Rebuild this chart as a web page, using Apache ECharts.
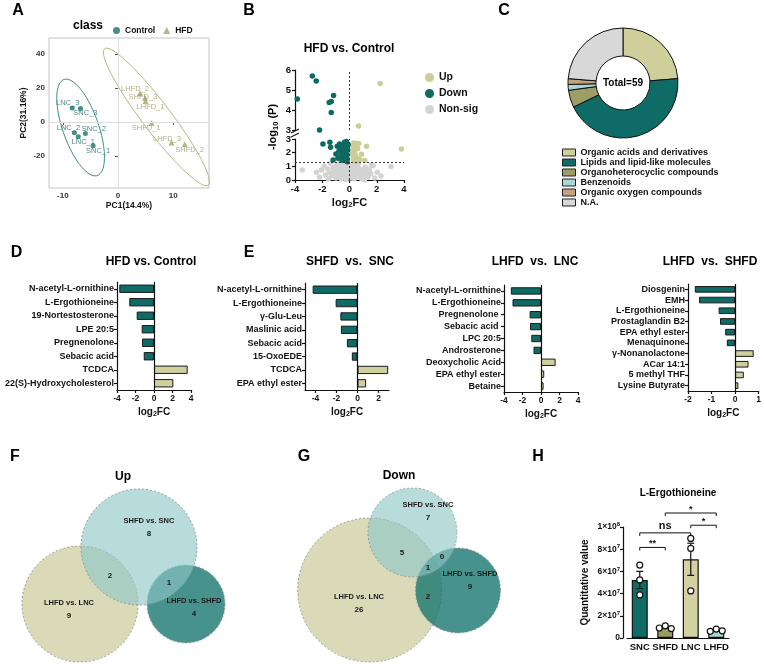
<!DOCTYPE html>
<html>
<head>
<meta charset="utf-8">
<script src="https://cdn.jsdelivr.net/npm/echarts@6/dist/echarts.min.js"></script>
<style>html,body{margin:0;padding:0;background:#fff}#chart{width:764px;height:664px}</style>
</head>
<body>
<div id="chart"></div>
<script>
const FONT = '"Liberation Sans", Arial, Helvetica, sans-serif';
const TEAL = '#0e6b65';
const OLIVE_LIGHT = '#d0d09e';
const OLIVE = '#9c9c68';

// A: PCA scores
const pcaControlNames = ['LNC_3', 'SNC_3', 'LNC_2', 'SNC_2', 'LNC_1', 'SNC_1'];
const pcaControlX = [-8.3, -6.8, -7.9, -5.9, -7.2, -4.5];
const pcaControlY = [8.2, 8.0, -6.3, -6.7, -8.7, -13.9];
const pcaHfdNames = ['LHFD_2', 'SHFD_3', 'LHFD_1', 'SHFD_1', 'LHFD_3', 'SHFD_2'];
const pcaHfdX = [4.0, 4.9, 5.0, 6.1, 9.7, 12.1];
const pcaHfdY = [17.0, 14.3, 12.4, -0.6, -12.1, -13.1];

// B: volcano
const upX = [2.25, 0.66, 0.32, 0.51, 0.68, 1.25, 0.88, 3.81, 1.12, 0.32, 0.39, 0.44, 0.32, 0.56, 0.44, 0.25, 0.35, 0.28, 0.6, 0.5, 0.2, 0.38, 0.75, 0.3];
const upY = [5.33, 3.2, 2.71, 2.67, 2.67, 2.47, 1.88, 2.27, 1.43, 2.22, 1.97, 1.73, 1.48, 1.6, 1.33, 2.5, 2.0, 1.65, 2.3, 1.45, 1.9, 2.4, 1.5, 1.4];
const downX = [-2.73, -2.44, -3.83, -1.17, -1.49, -1.34, -1.34, -2.2, -1.95, -1.44, -1.39, -1.2, -0.9, -0.73, -0.37, -0.22, -0.66, -0.54, -0.42, -0.66, -0.29, -0.17, -0.78, -0.46, -0.29, -0.17, -0.1, -0.55, -0.85, -0.3, -0.12, -0.6, -1.0, -0.45, -0.2];
const downY = [5.7, 5.45, 4.55, 4.73, 4.38, 4.42, 3.87, 3.0, 2.64, 2.76, 2.39, 1.46, 2.47, 2.64, 2.76, 2.81, 2.22, 1.97, 1.73, 1.73, 1.48, 1.33, 2.1, 2.47, 2.1, 1.85, 2.6, 1.45, 1.6, 2.35, 2.2, 2.55, 1.9, 2.05, 1.6];
const nsX = [-3.47, -2.42, -2.05, -1.76, -1.39, 2.03, 3.05, 1.73, 1.1, -1.6, -1.45, -1.3, -1.2, -1.1, -1.0, -0.95, -0.9, -0.85, -0.8, -0.7, -0.65, -0.6, -0.55, -0.5, -0.45, -0.4, -0.35, -0.3, -0.25, -0.2, -0.15, -0.1, -0.05, 0.0, 0.05, 0.1, 0.15, 0.2, 0.25, 0.3, 0.35, 0.4, 0.45, 0.5, 0.55, 0.6, 0.7, 0.75, 0.85, 0.9, 1.0, 1.05, 1.15, 1.25, 1.35, 1.45, 1.55, -2.2, -1.85, 2.3, 1.85, -0.75, 0.65, -1.55, 1.6];
const nsY = [0.74, 0.57, 0.74, 0.37, 1.23, 0.57, 0.99, 1.06, 0.02, 0.8, 0.55, 0.3, 0.9, 0.6, 0.15, 1.05, 0.4, 0.75, 0.2, 0.95, 0.55, 0.1, 0.35, 0.8, 1.15, 0.5, 0.25, 0.7, 0.05, 0.95, 0.4, 0.6, 1.1, 0.3, 0.8, 0.15, 0.55, 1.0, 0.35, 0.7, 0.1, 0.9, 0.45, 0.2, 0.65, 1.1, 0.3, 0.8, 0.5, 0.1, 0.7, 0.35, 0.95, 0.55, 0.2, 0.75, 0.45, 0.2, 1.0, 0.3, 0.15, 1.25, 1.25, 0.1, 1.1];

// C: classes
const pieNames = ['Organic acids and derivatives', 'Lipids and lipid-like molecules', 'Organoheterocyclic compounds', 'Benzenoids', 'Organic oxygen compounds', 'N.A.'];
const pieCounts = [14, 26, 3, 1, 1, 14];
const pieColors = ['#cfcf9c', TEAL, '#9d9d68', '#a8d6d4', '#c1a47c', '#d8d8d8'];

// D, E: log2FC
const dNames = ['N-acetyl-L-ornithine', 'L-Ergothioneine', '19-Nortestosterone', 'LPE 20:5', 'Pregnenolone', 'Sebacic acid', 'TCDCA', '22(S)-Hydroxycholesterol'];
const dFC = [-3.75, -2.67, -1.87, -1.33, -1.3, -1.11, 3.64, 2.09];
const e1Names = ['N-acetyl-L-ornithine', 'L-Ergothioneine', 'γ-Glu-Leu', 'Maslinic acid', 'Sebacic acid', '15-OxoEDE', 'TCDCA', 'EPA ethyl ester'];
const e1FC = [-4.27, -2.08, -1.63, -1.58, -1.01, -0.54, 2.92, 0.82];
const e2Names = ['N-acetyl-L-ornithine', 'L-Ergothioneine', 'Pregnenolone ', 'Sebacic acid ', 'LPC 20:5', 'Androsterone', 'Deoxycholic Acid', 'EPA ethyl ester', 'Betaine'];
const e2FC = [-3.26, -3.08, -1.23, -1.19, -1.05, -0.81, 1.58, 0.35, 0.28];
const e3Names = ['Diosgenin', 'EMH', 'L-Ergothioneine', 'Prostaglandin B2', 'EPA ethyl ester', 'Menaquinone', 'γ-Nonanolactone', 'ACar 14:1', '5 methyl THF', 'Lysine Butyrate'];
const e3FC = [-1.71, -1.53, -0.70, -0.64, -0.42, -0.35, 0.79, 0.57, 0.37, 0.14];

// F, G: venn counts
const vennSets = ['SHFD vs. SNC', 'LHFD vs. LNC', 'LHFD vs. SHFD'];
const vennUpOnly = [8, 9, 4];
const vennUpShared = [2, 1];          // SNC&LNC, SNC&SHFD
const vennDownOnly = [7, 26, 9];
const vennDownShared = [5, 0, 2, 1];  // SNC&LNC, SNC&SHFD, LNC&SHFD, all three

// H: L-Ergothioneine (x10^7)
const hGroups = ['SNC', 'SHFD', 'LNC', 'LHFD'];
const hReps = [[6.57, 5.23, 3.88], [0.90, 1.10, 0.85], [8.97, 8.07, 4.24], [0.60, 0.80, 0.65]];
const hBrackets = [[0, 1, 8.16], [0, 2, 9.47], [2, 3, 10.16], [1, 3, 11.26]];
const hBracketLabels = ['**', 'ns', '*', '*'];

// venn layout (panel units)
const vennUpCircles = [[80, 144, 58], [186, 144, 39], [139, 87, 58]];
const vennFills = ['rgba(196,196,140,0.62)', 'rgba(20,115,110,0.78)', 'rgba(140,198,198,0.62)'];
const vennUpNamePos = [[149, 61], [69, 143], [194, 141]];
const vennUpSharedPos = [[110, 116], [169, 123]];
const vennDownCircles = [[119.7, 130, 72], [208, 130.5, 42.5], [162.5, 72.5, 44.5]];
const vennDownNamePos = [[178, 45], [109, 137], [220, 114]];
const vennDownSharedPos = [[152, 93], [192, 97], [178, 137], [178, 108]];

const pcaLabelOffC = [[-4.5, -5], [5, 5], [-6, -5], [8.5, -4], [5, 5], [5, 5]];
const pcaLabelOffH = [[-5, -4], [-2, -1], [5, 6], [-5.5, 5], [-4.5, -4], [5, 6]];

function ellipsePoints(xs, ys, k) {
  const n = xs.length;
  const mx = xs.reduce((a, b) => a + b, 0) / n, my = ys.reduce((a, b) => a + b, 0) / n;
  let sxx = 0, syy = 0, sxy = 0;
  for (let i = 0; i < n; i++) {
    const dx = xs[i] - mx, dy = ys[i] - my;
    sxx += dx * dx; syy += dy * dy; sxy += dx * dy;
  }
  sxx /= n - 1; syy /= n - 1; sxy /= n - 1;
  const l11 = Math.sqrt(sxx), l21 = sxy / l11, l22 = Math.sqrt(syy - l21 * l21);
  const pts = [];
  for (let i = 0; i <= 90; i++) {
    const t = i / 90 * 2 * Math.PI, c = Math.cos(t), s = Math.sin(t);
    pts.push([mx + k * l11 * c, my + k * (l21 * c + l22 * s)]);
  }
  return pts;
}

const bold = (size) => ({ fontFamily: FONT, fontWeight: 'bold', fontSize: size, color: '#111' });
const log2fcName = {
  name: '{a|log}{b|2}{a|FC}', nameLocation: 'middle', nameGap: 16,
  nameTextStyle: { rich: { a: bold(10), b: Object.assign(bold(7), { padding: [5, 0, 0, 0] }) } }
};
const blackLine = { show: true, lineStyle: { color: '#111', width: 1.2 } };
const blackTick = { show: true, length: 3, lineStyle: { color: '#111', width: 1.2 } };

const grid = [
  { left: 49, top: 38, width: 160, height: 150, show: true, borderColor: '#c4c4c4', borderWidth: 1 },
  { left: 295, top: 139, width: 109, height: 41 },
  { left: 295, top: 70, width: 109, height: 60 },
  { left: 117, top: 282, width: 74, height: 108 },
  { left: 305, top: 283, width: 84, height: 107 },
  { left: 504, top: 285, width: 74, height: 107 },
  { left: 688, top: 284, width: 72, height: 107 },
  { left: 0, top: 460, width: 250, height: 204 },
  { left: 250, top: 460, width: 250, height: 204 },
  { left: 627, top: 527, width: 102, height: 111 }
];
const xAxis = [], yAxis = [], series = [];

// A
xAxis.push({
  gridIndex: 0, type: 'value', min: -12.5, max: 16.5, axisLine: { show: false },
  axisTick: { customValues: [-10, 0, 10], length: 3, lineStyle: { color: '#555' } },
  axisLabel: { customValues: [-10, 0, 10], margin: 4, ...bold(8), color: '#333' },
  splitLine: { show: false }, name: 'PC1(14.4%)', nameLocation: 'middle', nameGap: 12,
  nameTextStyle: bold(8.5)
});
yAxis.push({
  gridIndex: 0, type: 'value', min: -38.8, max: 49.4, axisLine: { show: false },
  axisTick: { customValues: [-20, 0, 20, 40], length: 3, lineStyle: { color: '#555' } },
  axisLabel: { customValues: [-20, 0, 20, 40], margin: 4, ...bold(8), color: '#333' },
  splitLine: { show: false }, name: 'PC2(31.16%)', nameLocation: 'middle', nameGap: 21,
  nameTextStyle: bold(8.5)
});
series.push({
  type: 'line', name: 'ctrlEllipse', xAxisIndex: 0, yAxisIndex: 0, showSymbol: false, silent: true,
  data: ellipsePoints(pcaControlX, pcaControlY, 3.1), lineStyle: { color: '#3a8c89', width: 1 },
  markLine: {
    silent: true, symbol: 'none', label: { show: false },
    lineStyle: { color: '#dedede', type: 'solid', width: 1 },
    data: [{ xAxis: 0 }, { yAxis: 0 }]
  }
});
series.push({
  type: 'line', name: 'hfdEllipse', xAxisIndex: 0, yAxisIndex: 0, showSymbol: false, silent: true,
  data: ellipsePoints(pcaHfdX, pcaHfdY, 3.0), lineStyle: { color: '#b6b683', width: 1 }
});
series.push({
  type: 'scatter', name: 'Control', xAxisIndex: 0, yAxisIndex: 0, symbol: 'circle', symbolSize: 5,
  itemStyle: { color: '#17706a' },
  data: pcaControlX.map((x, i) => ({
    value: [x, pcaControlY[i]], name: pcaControlNames[i],
    label: { offset: pcaLabelOffC[i] }
  })),
  label: { show: true, position: 'inside', formatter: '{b}', fontFamily: FONT, fontSize: 7.5, color: '#1b6a66' }
});
series.push({
  type: 'scatter', name: 'HFD', xAxisIndex: 0, yAxisIndex: 0, symbol: 'triangle', symbolSize: 6,
  itemStyle: { color: '#a3a36c' },
  data: pcaHfdX.map((x, i) => ({
    value: [x, pcaHfdY[i]], name: pcaHfdNames[i],
    label: { offset: pcaLabelOffH[i] }
  })),
  label: { show: true, position: 'inside', formatter: '{b}', fontFamily: FONT, fontSize: 7.5, color: '#9c9c62' }
});

// B
xAxis.push({
  gridIndex: 1, type: 'value', min: -4, max: 4, interval: 2, axisLine: blackLine, axisTick: blackTick,
  axisLabel: { margin: 4, ...bold(9.5) }, splitLine: { show: false },
  name: '{a|log}{b|2}{a|FC}', nameLocation: 'middle', nameGap: 16,
  nameTextStyle: { rich: { a: bold(11), b: Object.assign(bold(7.5), { padding: [5, 0, 0, 0] }) } }
});
yAxis.push({
  gridIndex: 1, type: 'value', min: 0, max: 3, interval: 1, axisLine: Object.assign({ onZero: false }, blackLine),
  axisTick: blackTick, axisLabel: { margin: 4, ...bold(9.5) }, splitLine: { show: false }
});
xAxis.push({ gridIndex: 2, type: 'value', min: -4, max: 4, show: false, splitLine: { show: false } });
yAxis.push({
  gridIndex: 2, type: 'value', min: 3, max: 6, interval: 1, axisLine: Object.assign({ onZero: false }, blackLine),
  axisTick: blackTick, axisLabel: { margin: 4, ...bold(9.5) }, splitLine: { show: false }
});
function volcano(name, xs, ys, color) {
  const lower = [], upper = [];
  xs.forEach((x, i) => (ys[i] > 2.9 ? upper : lower).push([x, ys[i]]));
  series.push({ type: 'scatter', name, xAxisIndex: 1, yAxisIndex: 1, data: lower, symbolSize: 5.5, clip: false, itemStyle: { color, opacity: 1 } });
  series.push({ type: 'scatter', name, xAxisIndex: 2, yAxisIndex: 2, data: upper, symbolSize: 5.5, clip: false, itemStyle: { color, opacity: 1 } });
}
volcano('Non-sig', nsX, nsY, '#d3d3d3');
volcano('Up', upX, upY, '#cdcd97');
volcano('Down', downX, downY, '#0d6a63');
const dotted = { color: '#333', type: [2, 2], width: 1 };
series.push({
  type: 'line', xAxisIndex: 1, yAxisIndex: 1, data: [], silent: true,
  markLine: { silent: true, symbol: 'none', label: { show: false }, lineStyle: dotted, data: [{ yAxis: 1.3 }, { xAxis: 0 }] }
});
series.push({
  type: 'line', xAxisIndex: 2, yAxisIndex: 2, data: [], silent: true,
  markLine: { silent: true, symbol: 'none', label: { show: false }, lineStyle: dotted, data: [{ xAxis: 0 }] }
});

// C
series.push({
  type: 'pie', center: [623, 83], radius: [27, 55], startAngle: 90, clockwise: true, silent: true,
  label: { show: false }, labelLine: { show: false },
  itemStyle: { borderColor: '#111', borderWidth: 1 },
  data: pieNames.map((n, i) => ({ name: n, value: pieCounts[i], itemStyle: { color: pieColors[i] } }))
});

// D, E
function barPanel(gi, names, fc, xmin, xmax, ticks) {
  xAxis.push(Object.assign({
    gridIndex: gi, type: 'value', min: xmin, max: xmax,
    axisLine: blackLine, axisTick: Object.assign({ customValues: ticks }, blackTick),
    axisLabel: { customValues: ticks, margin: 4, ...bold(8.5) }, splitLine: { show: false }
  }, log2fcName));
  yAxis.push({
    gridIndex: gi, type: 'category', data: names, inverse: true,
    axisLine: Object.assign({ onZero: false }, blackLine),
    axisTick: Object.assign({ alignWithLabel: true, interval: 0 }, blackTick),
    axisLabel: { interval: 0, margin: 3, ...bold(9) }
  });
  series.push({
    type: 'bar', xAxisIndex: gi, yAxisIndex: gi, barWidth: '62%', silent: true,
    itemStyle: { borderColor: '#1a1a1a', borderWidth: 1 },
    data: fc.map(v => ({ value: v, itemStyle: { color: v < 0 ? TEAL : OLIVE_LIGHT } })),
    markLine: {
      silent: true, symbol: 'none', label: { show: false },
      lineStyle: { color: '#111', type: 'solid', width: 1.2 }, data: [{ xAxis: 0 }]
    }
  });
}
barPanel(3, dNames, dFC, -4, 4, [-4, -2, 0, 2, 4]);
barPanel(4, e1Names, e1FC, -5, 3, [-4, -2, 0, 2]);
barPanel(5, e2Names, e2FC, -4, 4, [-4, -2, 0, 2, 4]);
barPanel(6, e3Names, e3FC, -2, 1, [-2, -1, 0, 1]);

// F, G
function vennPanel(gi, circles, names, onlyCounts, namePos, shared, sharedPos) {
  xAxis.push({ gridIndex: gi, type: 'value', min: 0, max: 250, show: false, splitLine: { show: false } });
  yAxis.push({ gridIndex: gi, type: 'value', min: 0, max: 204, inverse: true, show: false, splitLine: { show: false } });
  series.push({
    type: 'custom', xAxisIndex: gi, yAxisIndex: gi, data: circles, silent: true,
    renderItem: (params, api) => {
      const c = api.coord([api.value(0), api.value(1)]);
      const r = api.size([api.value(2), 0])[0];
      return {
        type: 'circle', shape: { cx: c[0], cy: c[1], r },
        style: { fill: vennFills[params.dataIndex], stroke: '#8a8a8a', lineWidth: 0.8, lineDash: [2, 2] }
      };
    }
  });
  const texts = [], pts = [], sizes = [];
  names.forEach((n, i) => {
    texts.push(n); pts.push(namePos[i]); sizes.push(7.5);
    texts.push(String(onlyCounts[i])); pts.push([namePos[i][0], namePos[i][1] + 13]); sizes.push(8);
  });
  shared.forEach((v, i) => { texts.push(String(v)); pts.push(sharedPos[i]); sizes.push(8); });
  series.push({
    type: 'custom', xAxisIndex: gi, yAxisIndex: gi, data: pts, silent: true, z: 5,
    renderItem: (params, api) => {
      const c = api.coord([api.value(0), api.value(1)]);
      return {
        type: 'text', x: c[0], y: c[1],
        style: {
          text: texts[params.dataIndex], fill: '#1a1a1a',
          font: 'bold ' + sizes[params.dataIndex] + 'px ' + FONT,
          textAlign: 'center', textVerticalAlign: 'middle', align: 'center', verticalAlign: 'middle'
        }
      };
    }
  });
}
vennPanel(7, vennUpCircles, vennSets, vennUpOnly, vennUpNamePos, vennUpShared, vennUpSharedPos);
vennPanel(8, vennDownCircles, vennSets, vennDownOnly, vennDownNamePos, vennDownShared, vennDownSharedPos);

// H
const hMeans = hReps.map(r => r.reduce((a, b) => a + b, 0) / r.length);
const hSem = hReps.map((r, i) => {
  const m = hMeans[i];
  const v = r.reduce((a, b) => a + (b - m) * (b - m), 0) / (r.length - 1);
  return Math.sqrt(v / r.length);
});
const hColors = [TEAL, '#9b9b66', '#d2d2a2', '#a9d6d5'];
xAxis.push({
  gridIndex: 9, type: 'category', data: hGroups, axisLine: blackLine, axisTick: { show: false },
  axisLabel: { interval: 0, margin: 4, ...bold(9.5) }
});
yAxis.push({
  gridIndex: 9, type: 'value', min: 0, max: 10, interval: 2, offset: 4,
  axisLine: blackLine, axisTick: blackTick, splitLine: { show: false },
  axisLabel: {
    margin: 3,
    formatter: v => v === 0 ? '{a|0}' : (v === 10 ? '{a|1×10}{s|8}' : '{a|' + v + '×10}{s|7}'),
    rich: { a: bold(8.5), s: Object.assign(bold(6), { padding: [0, 0, 5, 0] }) }
  },
  name: 'Quantitative value', nameLocation: 'middle', nameGap: 33, nameTextStyle: bold(10)
});
series.push({
  type: 'bar', xAxisIndex: 9, yAxisIndex: 9, barWidth: 16, silent: true,
  itemStyle: { borderColor: '#111', borderWidth: 1.2 },
  data: hMeans.map((m, i) => ({ value: m, itemStyle: { color: hColors[i] } }))
});
series.push({
  type: 'custom', xAxisIndex: 9, yAxisIndex: 9, silent: true, z: 4,
  data: hMeans.map((m, i) => [i, m, hSem[i]]),
  renderItem: (params, api) => {
    const i = api.value(0), m = api.value(1), s = api.value(2);
    const t = api.coord([i, m + s]), b = api.coord([i, m - s]);
    const st = { stroke: '#111', lineWidth: 1.2 };
    return {
      type: 'group', children: [
        { type: 'line', shape: { x1: t[0], y1: t[1], x2: b[0], y2: b[1] }, style: st },
        { type: 'line', shape: { x1: t[0] - 3.5, y1: t[1], x2: t[0] + 3.5, y2: t[1] }, style: st },
        { type: 'line', shape: { x1: b[0] - 3.5, y1: b[1], x2: b[0] + 3.5, y2: b[1] }, style: st }
      ]
    };
  }
});
const hDots = [];
hReps.forEach((r, i) => {
  const spread = Math.max(...r) - Math.min(...r) < 1;
  r.forEach((v, j) => hDots.push([i, v, spread ? (j - 1) * 6 : 0]));
});
series.push({
  type: 'custom', xAxisIndex: 9, yAxisIndex: 9, silent: true, z: 5, data: hDots,
  renderItem: (params, api) => {
    const c = api.coord([api.value(0), api.value(1)]);
    return { type: 'circle', shape: { cx: c[0] + api.value(2), cy: c[1], r: 3 }, style: { fill: '#fff', stroke: '#111', lineWidth: 1.2 } };
  }
});
series.push({
  type: 'custom', xAxisIndex: 9, yAxisIndex: 9, silent: true, z: 5, data: hBrackets, clip: false,
  renderItem: (params, api) => {
    const a = api.coord([api.value(0), api.value(2)]), b = api.coord([api.value(1), api.value(2)]);
    const lab = hBracketLabels[params.dataIndex];
    return {
      type: 'group', children: [
        { type: 'polyline', shape: { points: [[a[0], a[1] + 3], [a[0], a[1]], [b[0], a[1]], [b[0], a[1] + 3]] }, style: { stroke: '#111', lineWidth: 1, fill: null } },
        {
          type: 'text', x: (a[0] + b[0]) / 2, y: a[1] - (lab === 'ns' ? 1 : -1),
          style: {
            text: lab, fill: '#111', font: 'bold ' + (lab === 'ns' ? 11 : 9) + 'px ' + FONT,
            textAlign: 'center', textVerticalAlign: 'bottom', align: 'center', verticalAlign: 'bottom'
          }
        }
      ]
    };
  }
});

function txt(text, x, y, size, extra) {
  return Object.assign({
    type: 'text', x, y, silent: true,
    style: { text, fill: '#000', font: 'bold ' + size + 'px ' + FONT, textAlign: 'center', textVerticalAlign: 'middle', align: 'center', verticalAlign: 'middle' }
  }, extra || {});
}
const graphic = [
  txt('A', 18, 11, 16), txt('B', 249, 11, 16), txt('C', 504, 11, 16), txt('D', 16.5, 253, 16),
  txt('E', 249, 253, 16), txt('F', 15, 457, 16), txt('G', 304, 457, 16), txt('H', 538, 457, 16),
  txt('class', 88, 26, 12),
  txt('HFD vs. Control', 349, 49, 12),
  txt('Total=59', 623, 83, 10),
  txt('HFD vs. Control', 151, 262, 12),
  txt('SHFD  vs.  SNC', 350, 262, 12),
  txt('LHFD  vs.  LNC', 535, 262, 12),
  txt('LHFD  vs.  SHFD', 710, 262, 12),
  txt('Up', 123, 477, 12),
  txt('Down', 399, 476, 12),
  txt('L-Ergothioneine', 678, 493, 10),
  {
    type: 'text', x: 273, y: 127, rotation: Math.PI / 2, silent: true,
    style: {
      text: '{a|-log}{b|10}{a| (P)}', textAlign: 'center', textVerticalAlign: 'middle', align: 'center', verticalAlign: 'middle',
      rich: { a: { font: 'bold 11px ' + FONT, fill: '#000' }, b: { font: 'bold 7.5px ' + FONT, fill: '#000', padding: [5, 0, 0, 0] } }
    }
  },
  { type: 'line', silent: true, shape: { x1: 291, y1: 133, x2: 299, y2: 129 }, style: { stroke: '#111', lineWidth: 1.2 } },
  { type: 'line', silent: true, shape: { x1: 291, y1: 137, x2: 299, y2: 133 }, style: { stroke: '#111', lineWidth: 1.2 } }
];

const option = {
  animation: false,
  backgroundColor: '#fff',
  textStyle: { fontFamily: FONT },
  grid, xAxis, yAxis, series, graphic,
  legend: [
    {
      data: ['Control', 'HFD'], left: 108, top: 21, orient: 'horizontal', itemWidth: 7, itemHeight: 7, itemGap: 8,
      textStyle: bold(8.5), selectedMode: false
    },
    {
      data: ['Up', 'Down', 'Non-sig'], left: 420, top: 67, orient: 'vertical', icon: 'circle',
      itemWidth: 9, itemHeight: 9, itemGap: 5, textStyle: bold(10.5), selectedMode: false
    },
    {
      data: pieNames, left: 557, top: 143, orient: 'vertical', icon: 'rect', itemWidth: 13, itemHeight: 7, itemGap: 1,
      itemStyle: { borderColor: '#222', borderWidth: 1 }, textStyle: bold(9), selectedMode: false
    }
  ]
};
const chart = echarts.init(document.getElementById('chart'));
chart.setOption(option);
</script>
</body>
</html>
